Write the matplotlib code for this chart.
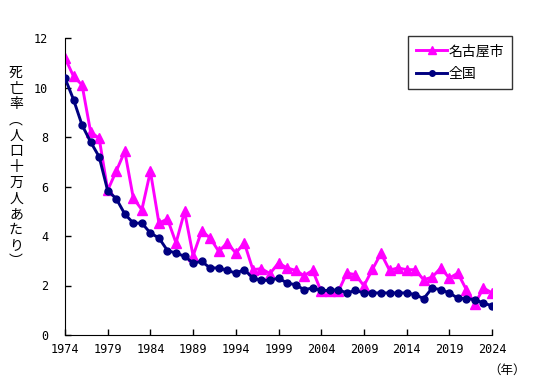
import matplotlib
matplotlib.use('Agg')
import matplotlib.pyplot as plt

plt.rcParams['font.family'] = ['Noto Sans CJK JP', 'DejaVu Sans']

# --- データ ---
years = list(range(1974, 2025))
nagoya = [11.2, 10.45, 10.1, 8.2, 7.95, 5.85, 6.62, 7.42, 5.53, 5.06,
          6.61, 4.52, 4.69, 3.72, 4.99, 3.2, 4.2, 3.92, 3.38, 3.72,
          3.31, 3.72, 2.64, 2.68, 2.48, 2.91, 2.71, 2.61, 2.4, 2.61,
          1.76, 1.76, 1.76, 2.5, 2.44, 1.99, 2.65, 3.3, 2.62, 2.71,
          2.64, 2.64, 2.23, 2.34, 2.71, 2.3, 2.5, 1.83, 1.26, 1.9, 1.7]
zenkoku = [10.38, 9.51, 8.48, 7.8, 7.2, 5.83, 5.51, 4.89, 4.52, 4.52,
           4.12, 3.92, 3.41, 3.31, 3.18, 2.91, 2.97, 2.71, 2.71, 2.61,
           2.5, 2.64, 2.3, 2.21, 2.21, 2.3, 2.1, 2.03, 1.83, 1.9,
           1.8, 1.8, 1.83, 1.7, 1.8, 1.7, 1.7, 1.7, 1.7, 1.7,
           1.7, 1.63, 1.47, 1.9, 1.83, 1.7, 1.49, 1.47, 1.43, 1.29, 1.18]
xticks = list(range(1974, 2025, 5))

fig = plt.figure(figsize=(5.39, 3.88), dpi=100)
ax = fig.add_axes([65 / 539, 1 - 335 / 388, 427 / 539, 297 / 388])

ax.plot(years, nagoya, color='#FF00FF', lw=2.1, marker='^', ms=7,
        label='名古屋市', zorder=2)
ax.plot(years, zenkoku, color='#000080', lw=2.1, marker='o', ms=5,
        label='全国', zorder=3)

ax.set_xlim(1974, 2024)
ax.set_ylim(0, 12)
ax.set_xticks(xticks)
ax.set_yticks(range(0, 13, 2))
ax.tick_params(direction='in', length=4, width=1, labelsize=8.5, pad=6)
ax.tick_params(axis='y', pad=12)
for lbl in ax.get_xticklabels() + ax.get_yticklabels():
    lbl.set_family('DejaVu Sans Mono')
ax.spines['top'].set_visible(False)
ax.spines['right'].set_visible(False)

# 縦書きの軸ラベル
ylab = '死亡率︵人口十万人あたり︶'
fig.text(16 / 539, 1 - 167 / 388, '\n'.join(ylab), ha='center', va='center',
         fontsize=10, linespacing=1.15)
fig.text(507 / 539, 1 - 370 / 388, '（年）', ha='center', va='center', fontsize=9)

leg = ax.legend(loc='upper left', bbox_to_anchor=(408 / 539, 1 - 36 / 388),
                bbox_transform=fig.transFigure, fontsize=10,
                frameon=True, fancybox=False, edgecolor='black',
                handlelength=2.2, borderpad=0.6, labelspacing=0.6,
                handletextpad=0.1, borderaxespad=0, markerscale=0.8)
leg.get_frame().set_linewidth(1.0)

fig.savefig('out.png', dpi=100)
